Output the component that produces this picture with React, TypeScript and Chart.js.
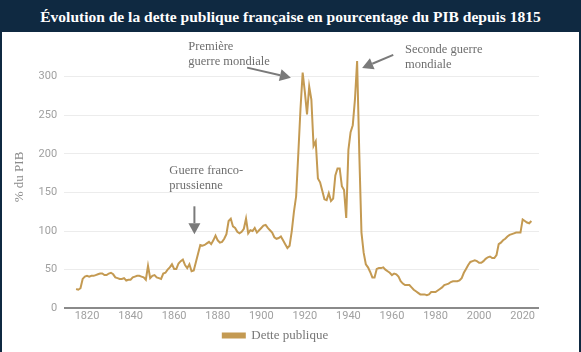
import React, { useEffect, useRef } from "react";
import { Chart, registerables } from "chart.js";

Chart.register(...registerables);

// ---- Data (public debt, % of GDP) ----
const START_YEAR = 1815;
const debt1815to1869 = [
  25, 24, 26, 38, 41,
  42, 41, 42, 42, 43, 44, 45, 45, 43, 43,
  45, 46, 44, 40, 39, 38, 38, 39, 36, 37,
  37, 40, 41, 42, 42, 41, 40, 37, 55, 39,
  42, 43, 40, 39, 38, 45, 46, 50, 53, 57,
  51, 51, 58, 61, 63, 56, 52, 57, 48, 49,
];
const debt1870to1913 = [
  60, 71, 82, 81, 82, 84, 86, 83, 88, 94,
  88, 85, 86, 90, 96, 113, 116, 106, 104, 99,
  97, 99, 103, 116, 97, 101, 100, 104, 98, 101,
  104, 107, 108, 104, 101, 98, 92, 90, 91, 93,
  88, 83, 78, 81,
];
const debt1914to1949 = [
  100, 125, 145, 200, 258, 305,
  280, 251, 287, 270, 210, 216, 168, 163, 152, 141,
  140, 149, 139, 142, 172, 181, 181, 158, 153, 117,
  205, 228, 237, 270, 320, 200, 98, 72, 57, 53,
];
const debt1950to1989 = [
  47, 40, 40, 51, 52, 52, 53, 50, 48, 46,
  43, 45, 44, 41, 35, 32, 30, 30, 30, 27,
  24, 22, 20, 18, 18, 18, 17, 18, 21, 21,
  21, 23, 25, 27, 30, 31, 32, 34, 35, 35,
];
const debt1990to2024 = [
  35, 36, 39, 46, 51, 56, 60, 61, 62, 61,
  59, 59, 61, 64, 66, 67, 65, 65, 69, 83,
  85, 88, 90, 93, 95, 96, 97, 98, 98, 98,
  115, 113, 111, 110, 113,
];
const debtValues = [
  ...debt1815to1869,
  ...debt1870to1913,
  ...debt1914to1949,
  ...debt1950to1989,
  ...debt1990to2024,
];
const years = debtValues.map((_, i) => START_YEAR + i);

const X_TICKS = [1820, 1840, 1860, 1880, 1900, 1920, 1940, 1960, 1980, 2000, 2020];
const Y_TICKS = [0, 50, 100, 150, 200, 250, 300];

const TITLE = "Évolution de la dette publique française en pourcentage du PIB depuis 1815";
const SERIES_LABEL = "Dette publique";
const Y_TITLE = "% du PIB";

// annotations anchored in data coordinates (year, % of GDP)
const ANNOTATIONS = [
  { lines: ["Première", "guerre mondiale"], text: [1866.5, 339], from: [1893.5, 311.5], to: [1913.6, 298.5] },
  { lines: ["Seconde guerre", "mondiale"], text: [1966, 335], from: [1960.6, 328], to: [1946.3, 311] },
  { lines: ["Guerre franco-", "prussienne"], text: [1857.8, 178], from: [1869.3, 132], to: [1869.3, 96] },
];

const GOLD = "#c49a52";
const NAVY = "#0f2941";
const SERIF = "Liberation Serif";
const SANS = "Roboto";

function drawArrow(ctx: CanvasRenderingContext2D, x1: number, y1: number, x2: number, y2: number) {
  const ang = Math.atan2(y2 - y1, x2 - x1);
  const head = 11;
  const half = 6;
  const bx = x2 - head * Math.cos(ang);
  const by = y2 - head * Math.sin(ang);
  ctx.beginPath();
  ctx.moveTo(x1, y1);
  ctx.lineTo(bx, by);
  ctx.stroke();
  ctx.beginPath();
  ctx.moveTo(x2, y2);
  ctx.lineTo(bx + half * Math.sin(ang), by - half * Math.cos(ang));
  ctx.lineTo(bx - half * Math.sin(ang), by + half * Math.cos(ang));
  ctx.closePath();
  ctx.fill();
}

const annotationPlugin = {
  id: "warAnnotations",
  afterDatasetsDraw(chart: any) {
    const { ctx } = chart;
    const x = chart.scales.x;
    const y = chart.scales.y;
    ctx.save();
    ctx.font = `12.5px "${SERIF}"`;
    ctx.strokeStyle = "#7a7a7a";
    ctx.lineWidth = 2;
    ctx.textAlign = "left";
    ctx.textBaseline = "middle";
    for (const a of ANNOTATIONS) {
      const tx = x.getPixelForValue(a.text[0]);
      const ty = y.getPixelForValue(a.text[1]);
      ctx.fillStyle = "#6e6e6e";
      a.lines.forEach((line, i) => ctx.fillText(line, tx, ty + i * 15));
      ctx.fillStyle = "#7a7a7a";
      drawArrow(
        ctx,
        x.getPixelForValue(a.from[0]),
        y.getPixelForValue(a.from[1]),
        x.getPixelForValue(a.to[0]),
        y.getPixelForValue(a.to[1])
      );
    }
    ctx.restore();
  },
};

export default function App() {
  const canvasRef = useRef<HTMLCanvasElement | null>(null);

  useEffect(() => {
    document.body.style.margin = "0";
    const canvas = canvasRef.current;
    if (!canvas) return;
    let chart: Chart | null = null;
    let cancelled = false;
    const build = () => {
      if (cancelled) return;
      chart = new Chart(canvas, {
        type: "line",
        data: {
          datasets: [
            {
              label: SERIES_LABEL,
              data: years.map((yr, i) => ({ x: yr, y: debtValues[i] })),
              borderColor: GOLD,
              backgroundColor: GOLD,
              borderWidth: 2,
              pointRadius: 0,
              tension: 0,
            },
          ],
        },
        options: {
          responsive: false,
          animation: false,
          layout: { padding: { left: 10, right: 40, top: 12, bottom: 0 } },
          plugins: {
            tooltip: { enabled: false },
            legend: {
              position: "bottom",
              labels: {
                boxWidth: 22,
                boxHeight: 4,
                padding: 5.5,
                color: "#777",
                font: { family: SERIF, size: 13 },
              },
            },
          },
          scales: {
            x: {
              type: "linear",
              min: 1809.5,
              max: 2027.5,
              afterBuildTicks: (scale: any) => {
                scale.ticks = X_TICKS.map((v) => ({ value: v }));
              },
              grid: { display: false, drawTicks: false },
              border: { display: false },
              ticks: {
                color: "#a0a0a0",
                padding: 1,
                font: { family: SANS, size: 11 },
                maxRotation: 0,
                callback: (v: any) => String(v),
              },
            },
            y: {
              min: 0,
              max: 340,
              afterBuildTicks: (scale: any) => {
                scale.ticks = Y_TICKS.map((v) => ({ value: v }));
              },
              border: { display: false },
              grid: {
                drawTicks: false,
                color: (c: any) => (c.tick && c.tick.value === 0 ? "#8a8a8a" : "#ececec"),
                lineWidth: (c: any) => (c.tick && c.tick.value === 0 ? 2 : 1),
              },
              ticks: {
                color: "#a0a0a0",
                padding: 7,
                font: { family: SANS, size: 11 },
              },
              title: {
                display: true,
                text: Y_TITLE,
                color: "#8a8a8a",
                padding: { top: 0, bottom: 4 },
                font: { family: SERIF, size: 13 },
              },
            },
          },
        },
        plugins: [annotationPlugin],
      });
    };
    const fonts: any = (document as any).fonts;
    if (fonts && fonts.load) {
      Promise.all([
        fonts.load(`13px "${SERIF}"`),
        fonts.load(`11px "${SANS}"`),
      ])
        .catch(() => null)
        .then(build);
    } else {
      build();
    }
    return () => {
      cancelled = true;
      if (chart) chart.destroy();
    };
  }, []);

  return (
    <div
      style={{
        width: 581,
        height: 352,
        boxSizing: "border-box",
        background: NAVY,
        padding: "0 2px 0 2px",
        overflow: "hidden",
      }}
    >
      <div
        style={{
          height: 32,
          lineHeight: "34px",
          textAlign: "center",
          color: "#ffffff",
          fontFamily: `"${SERIF}", serif`,
          fontWeight: "bold",
          fontSize: 15.5,
          whiteSpace: "nowrap",
        }}
      >
        {TITLE}
      </div>
      <div style={{ background: "#ffffff", height: 320 }}>
        <canvas ref={canvasRef} width={577} height={320} style={{ display: "block" }} />
      </div>
    </div>
  );
}
